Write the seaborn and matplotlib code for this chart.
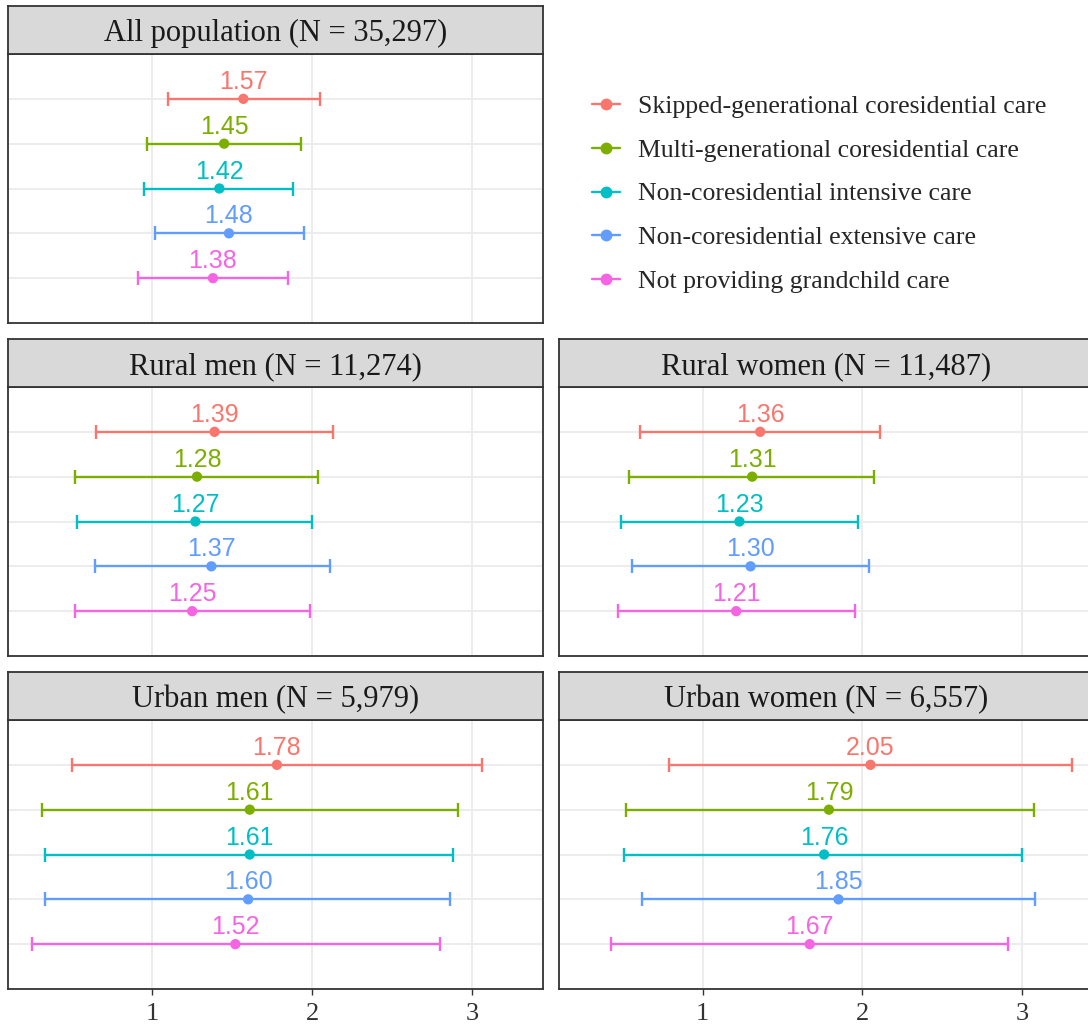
import matplotlib
matplotlib.use("Agg")
import matplotlib.pyplot as plt
import seaborn as sns
import pandas as pd
from matplotlib.lines import Line2D

# ---------------- data ----------------
categories = [
    "Skipped-generational coresidential care",
    "Multi-generational coresidential care",
    "Non-coresidential intensive care",
    "Non-coresidential extensive care",
    "Not providing grandchild care",
]
colors = ["#F8766D", "#7CAE00", "#00BFC4", "#619CFF", "#F564E3"]

panels = [
    "All population (N = 35,297)",
    "Rural men (N = 11,274)",
    "Rural women (N = 11,487)",
    "Urban men (N = 5,979)",
    "Urban women (N = 6,557)",
]

est_all = [1.57, 1.45, 1.42, 1.48, 1.38]
lo_all = [1.10, 0.97, 0.95, 1.02, 0.91]
hi_all = [2.05, 1.93, 1.88, 1.95, 1.85]

est_rural_men = [1.39, 1.28, 1.27, 1.37, 1.25]
lo_rural_men = [0.65, 0.52, 0.53, 0.64, 0.52]
hi_rural_men = [2.13, 2.04, 2.00, 2.11, 1.99]

est_rural_women = [1.36, 1.31, 1.23, 1.30, 1.21]
lo_rural_women = [0.61, 0.54, 0.49, 0.56, 0.47]
hi_rural_women = [2.11, 2.07, 1.97, 2.04, 1.95]

est_urban_men = [1.78, 1.61, 1.61, 1.60, 1.52]
lo_urban_men = [0.50, 0.31, 0.33, 0.33, 0.25]
hi_urban_men = [3.06, 2.91, 2.88, 2.86, 2.80]

est_urban_women = [2.05, 1.79, 1.76, 1.85, 1.67]
lo_urban_women = [0.79, 0.52, 0.51, 0.62, 0.43]
hi_urban_women = [3.31, 3.07, 3.00, 3.08, 2.91]

x_ticks = [1, 2, 3]

est_sets = [est_all, est_rural_men, est_rural_women, est_urban_men, est_urban_women]
lo_sets = [lo_all, lo_rural_men, lo_rural_women, lo_urban_men, lo_urban_women]
hi_sets = [hi_all, hi_rural_men, hi_rural_women, hi_urban_men, hi_urban_women]

rows = []
for p, e, l, h in zip(panels, est_sets, lo_sets, hi_sets):
    for i, c in enumerate(categories):
        rows.append(dict(panel=p, category=c, row=i + 1, est=e[i], lo=l[i], hi=h[i]))
df = pd.DataFrame(rows)

# ---------------- layout ----------------
sns.set_theme(style="white")
SERIF = ["Liberation Serif", "DejaVu Serif"]
SANS = ["Liberation Sans", "DejaVu Sans"]
plt.rcParams["font.family"] = SERIF

W, H = 1088, 1026
fig = plt.figure(figsize=(W / 100, H / 100), dpi=100)
fig.patch.set_facecolor("white")

cols_x = [(8.3, 543.3), (558.7, 1093.7)]
rows_y = [(6, 54, 323), (339, 387, 656), (672, 720, 989)]
layout = [(0, 0), (1, 0), (1, 1), (2, 0), (2, 1)]  # (row, col) for each panel
palette = dict(zip(categories, colors))
BORDER = "#333333"
GRID = "#EBEBEB"


def frac(x0, x1, ytop, ybot):
    return [x0 / W, 1 - ybot / H, (x1 - x0) / W, (ybot - ytop) / H]


for p, (r, c) in zip(panels, layout):
    x0, x1 = cols_x[c]
    st, sb, pb = rows_y[r]
    ax = fig.add_axes(frac(x0, x1, sb, pb))
    sax = fig.add_axes(frac(x0, x1, st, sb))

    sub = df[df["panel"] == p]
    for cat, col in zip(categories, colors):
        d = sub[sub["category"] == cat]
        ax.errorbar(
            d["est"], d["row"],
            xerr=[d["est"] - d["lo"], d["hi"] - d["est"]],
            fmt="none", ecolor=col, elinewidth=1.7, capsize=5,
            capthick=1.7, zorder=3,
        )
    sns.scatterplot(
        data=sub, x="est", y="row", hue="category", palette=palette,
        hue_order=categories, s=55, linewidth=0, legend=False, ax=ax, zorder=4,
    )
    for _, d in sub.iterrows():
        ax.annotate(
            f"{d['est']:.2f}", (d["est"], d["row"]), xytext=(0, 3.5),
            textcoords="offset points", ha="center", va="bottom",
            color=palette[d["category"]], fontsize=18, family=SANS, zorder=5,
        )

    ax.set_xlim(0.10, 3.446)
    ax.set_ylim(6, 0)
    ax.set_yticks([1, 2, 3, 4, 5])
    ax.set_yticklabels([])
    ax.set_xticks(x_ticks)
    ax.set_xlabel("")
    ax.set_ylabel("")
    ax.grid(True, color=GRID, linewidth=1.3, zorder=0)
    ax.set_axisbelow(True)
    for s in ax.spines.values():
        s.set_color(BORDER)
        s.set_linewidth(1.3)
    ax.tick_params(axis="y", length=0)
    if r == 2:
        ax.tick_params(axis="x", length=4, width=1, color=BORDER, labelsize=19,
                       labelcolor="#333333", pad=6, bottom=True)
    else:
        ax.tick_params(axis="x", length=0, labelbottom=False)

    sax.set_facecolor("#D9D9D9")
    sax.set_xticks([])
    sax.set_yticks([])
    for s in sax.spines.values():
        s.set_color(BORDER)
        s.set_linewidth(1.3)
    sax.text(0.5, 0.42, p, ha="center", va="center", fontsize=22,
             color="#1A1A1A", transform=sax.transAxes)

handles = [
    Line2D([], [], color=col, marker="o", markersize=7.5, linewidth=1.7)
    for col in colors
]
fig.legend(
    handles, categories, loc="center left",
    bbox_to_anchor=(592 / W, 1 - 194 / H), frameon=False, fontsize=18.5,
    handlelength=1.1, handletextpad=0.7, labelspacing=0.8,
    borderpad=0, borderaxespad=0,
)

fig.savefig("out.png", dpi=100)
